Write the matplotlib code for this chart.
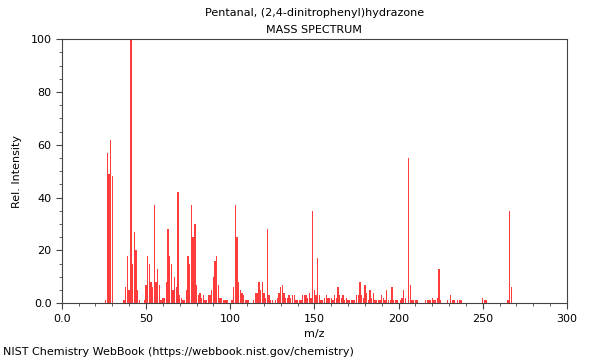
import numpy as np
import matplotlib
matplotlib.use("Agg")
import matplotlib.pyplot as plt
from matplotlib.ticker import MultipleLocator

plt.rcParams.update({
    "font.family": "DejaVu Sans",
    "font.size": 8,
})

# peak list (m/z, relative intensity)
mz = [26, 27, 28, 29, 30, 37, 38, 39, 40, 41, 42, 43, 44, 45, 46,
      49, 50, 51, 52, 53, 54, 55, 56, 57, 58, 59, 60, 61, 62, 63, 64,
      65, 66, 67, 68, 69, 70, 71, 72, 73, 74, 75, 76, 77, 78, 79, 80,
      81, 82, 83, 84, 85, 86, 87, 88, 89, 90, 91, 92, 93, 94, 95, 96,
      97, 98, 101, 102, 103, 104, 105, 106, 107, 108, 109, 110, 111, 114,
      115, 116, 117, 118, 119, 120, 121, 122, 123, 124, 125, 127, 128, 129,
      130, 131, 132, 133, 134, 135, 136, 137, 138, 139, 140, 141, 142, 143,
      144, 145, 146, 147, 148, 149, 150, 151, 152, 153, 154, 155, 156, 157,
      158, 159, 160, 161, 162, 163, 164, 165, 166, 167, 168, 169, 170, 171,
      172, 173, 174, 175, 176, 177, 178, 179, 180, 181, 182, 183, 184, 185,
      186, 187, 188, 189, 190, 191, 192, 193, 194, 195, 196, 197, 198, 199,
      201, 202, 203, 204, 206, 207, 208, 209, 210, 211, 216, 217, 218, 219,
      220, 221, 222, 223, 224, 225, 229, 231, 232, 233, 235, 236, 237, 250,
      251, 252, 265, 266, 267]
intensity = [1, 57, 49, 62, 48, 1, 6, 18, 5, 100, 15, 27, 20, 5, 1,
             1, 7, 18, 15, 8, 6, 37, 8, 13, 7, 1, 2, 2, 8, 28, 18,
             15, 5, 10, 6, 42, 3, 2, 1, 1, 5, 18, 15, 37, 25, 30, 7,
             3, 4, 2, 3, 1, 1, 3, 3, 5, 10, 16, 18, 7, 2, 2, 1,
             1, 1, 1, 6, 37, 25, 8, 5, 4, 3, 1, 1, 1, 1,
             4, 4, 8, 5, 8, 4, 2, 28, 3, 1, 1, 1, 2, 4,
             6, 7, 4, 2, 2, 3, 2, 3, 3, 1, 1, 1, 1, 3,
             3, 3, 2, 4, 2, 35, 5, 3, 17, 3, 1, 1, 2, 3,
             2, 2, 2, 1, 3, 2, 6, 3, 2, 3, 1, 2, 1, 1,
             1, 1, 1, 3, 3, 8, 3, 2, 7, 4, 1, 5, 2, 4,
             1, 1, 1, 1, 3, 2, 1, 5, 1, 1, 6, 1, 1, 1,
             1, 2, 5, 2, 55, 7, 1, 1, 1, 1, 1, 1, 1, 1,
             2, 1, 1, 2, 13, 1, 1, 3, 1, 1, 1, 1, 1, 2,
             1, 1, 1, 35, 6]

xtick_pos = [0, 50, 100, 150, 200, 250, 300]
xtick_lab = ["0.0", "50", "100", "150", "200", "250", "300"]
ytick_pos = [0, 20, 40, 60, 80, 100]
ytick_lab = ["0.0", "20", "40", "60", "80", "100"]

fig = plt.figure(figsize=(6, 3.6), dpi=100)
ax = fig.add_axes([0.103, 0.158, 0.842, 0.733])

ax.bar(mz, intensity, width=0.8, color="#ff3c3c", linewidth=0)

ax.set_xticks(xtick_pos, labels=xtick_lab)
ax.set_yticks(ytick_pos, labels=ytick_lab)
ax.xaxis.set_minor_locator(MultipleLocator(10))
ax.yaxis.set_minor_locator(MultipleLocator(5))
ax.set_xlim(0, 300)
ax.set_ylim(0, 100)
ax.tick_params(which="major", length=4, width=0.8, color="#444444")
ax.tick_params(which="minor", length=2.5, width=0.6, color="#444444")
for s in ax.spines.values():
    s.set_color("#444444")
    s.set_linewidth(0.8)

ax.set_xlabel("m/z", labelpad=4)
ax.set_ylabel("Rel. Intensity", labelpad=6)

fig.text(0.524, 0.963, "Pentanal, (2,4-dinitrophenyl)hydrazone", ha="center", va="center")
fig.text(0.524, 0.916, "MASS SPECTRUM", ha="center", va="center")
fig.text(0.005, 0.022, "NIST Chemistry WebBook (https://webbook.nist.gov/chemistry)",
         ha="left", va="center")

plt.savefig("out.png", dpi=100)
plt.close()
